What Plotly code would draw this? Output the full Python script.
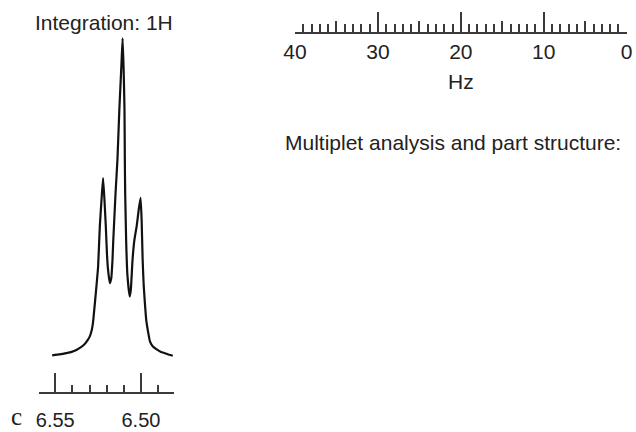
import plotly.graph_objects as go

# 1H multiplet trace: chemical shift (ppm) and relative intensity
shift_ppm = [6.5518, 6.5475, 6.5436, 6.5404, 6.5377, 6.5352, 6.5328, 6.5311,
             6.5299, 6.5287, 6.5280, 6.5267, 6.5250, 6.5240, 6.5230, 6.5221,
             6.5213, 6.5205, 6.5198, 6.5192, 6.5182, 6.5173, 6.5166, 6.5162,
             6.5148, 6.5137, 6.5126, 6.5114, 6.5107, 6.5101, 6.5096, 6.5094,
             6.5092, 6.5086, 6.5079, 6.5066, 6.5059, 6.5049, 6.5038, 6.5025,
             6.5013, 6.5002, 6.4996, 6.4990, 6.4984, 6.4977, 6.4969, 6.4963,
             6.4956, 6.4947, 6.4930, 6.4908, 6.4883, 6.4860, 6.4836, 6.4814]
intensity = [0.5, 0.8, 1.2, 1.6, 2.2, 3.0, 4.1, 5.3,
             6.4, 8.5, 10.7, 17.9, 28.4, 41.0, 49.4, 56.1,
             49.4, 41.0, 32.1, 27.4, 23.2, 24.8, 30.5, 35.9,
             51.6, 62.0, 77.7, 91.5, 100.0, 90.3, 77.7, 62.0,
             51.6, 35.9, 25.8, 19.0, 21.1, 30.5, 36.8, 41.0,
             46.2, 49.9, 43.1, 30.5, 22.6, 17.0, 11.6, 9.4,
             7.2, 4.8, 3.3, 2.4, 1.6, 1.2, 0.7, 0.4]

ppm_ticks = [6.55, 6.50]
ppm_tick_text = ["6.55", "6.50"]
hz_ticks = [40, 30, 20, 10, 0]
hz_half_ticks = [35, 25, 15, 5]

W, H = 636, 432
FONT = "Liberation Sans, Arial, Helvetica, sans-serif"
INK = "#222222"
AXIS = "#3a3a3a"


def fx(px):
    return px / W


def fy(py):
    return 1 - py / H


fig = go.Figure()

fig.add_trace(go.Scatter(
    x=shift_ppm, y=intensity, mode="lines",
    line=dict(color="#111111", width=2.2, shape="spline", smoothing=0.4),
    xaxis="x", yaxis="y", hoverinfo="skip", showlegend=False,
))
# empty traces so the Hz ruler axes get their own subplot
fig.add_trace(go.Scatter(x=[], y=[], xaxis="x2", yaxis="y2", showlegend=False))
fig.add_trace(go.Scatter(x=[], y=[], xaxis="x3", yaxis="y2", showlegend=False))

tick_font = dict(family=FONT, size=21, color=INK)
ppm_font = dict(family=FONT, size=20, color=INK)

fig.update_layout(
    width=W, height=H,
    margin=dict(l=0, r=0, t=0, b=0, autoexpand=False),
    paper_bgcolor="white", plot_bgcolor="rgba(0,0,0,0)",
    showlegend=False,
    xaxis=dict(
        domain=[fx(39), fx(174)], range=[6.5595, 6.4807], anchor="y",
        tickvals=ppm_ticks, ticktext=ppm_tick_text,
        ticks="inside", ticklen=19, tickwidth=1.5, tickcolor=AXIS,
        minor=dict(tick0=6.50, dtick=0.01, ticks="inside", ticklen=7,
                   tickwidth=1.5, tickcolor=AXIS, showgrid=False),
        showline=True, linecolor=AXIS, linewidth=1.5,
        showgrid=False, zeroline=False, tickfont=ppm_font,
        ticklabelstandoff=9, automargin=False,
    ),
    yaxis=dict(domain=[fy(392), fy(30)], range=[-10.98, 102.6],
               visible=False, automargin=False),
    xaxis2=dict(
        domain=[fx(295), fx(626.7)], range=[40, 0], anchor="y2",
        tickvals=hz_ticks,
        ticks="inside", ticklen=20, tickwidth=1.5, tickcolor=AXIS,
        minor=dict(dtick=1, ticks="inside", ticklen=8, tickwidth=1.5,
                   tickcolor=AXIS, showgrid=False),
        showline=True, linecolor=AXIS, linewidth=1.5,
        showgrid=False, zeroline=False, tickfont=tick_font,
        ticklabelstandoff=0, automargin=False,
        title=dict(text="Hz", font=tick_font, standoff=12),
    ),
    xaxis3=dict(
        overlaying="x2", anchor="y2", side="bottom", range=[40, 0],
        tickvals=hz_half_ticks, ticks="inside", ticklen=11, tickwidth=1.5,
        tickcolor=AXIS, showticklabels=False, showline=False,
        showgrid=False, zeroline=False, automargin=False,
    ),
    yaxis2=dict(domain=[fy(32), 1.0], range=[0, 1], visible=False,
                automargin=False),
    annotations=[
        dict(text="Integration: 1H", x=fx(104), y=fy(23), xref="paper",
             yref="paper", xanchor="center", yanchor="middle",
             showarrow=False, font=dict(family=FONT, size=21, color=INK)),
        dict(text="Multiplet analysis and part structure:", x=fx(283),
             y=fy(142), xref="paper", yref="paper", xanchor="left",
             yanchor="middle", showarrow=False,
             font=dict(family=FONT, size=21, color=INK)),
        dict(text="c", x=fx(16), y=0, xref="paper", yref="paper",
             xanchor="center", yanchor="bottom", showarrow=False,
             font=dict(family="Liberation Serif, Times New Roman, serif",
                       size=25, color=INK)),
    ],
)

fig.write_html("out.html")
